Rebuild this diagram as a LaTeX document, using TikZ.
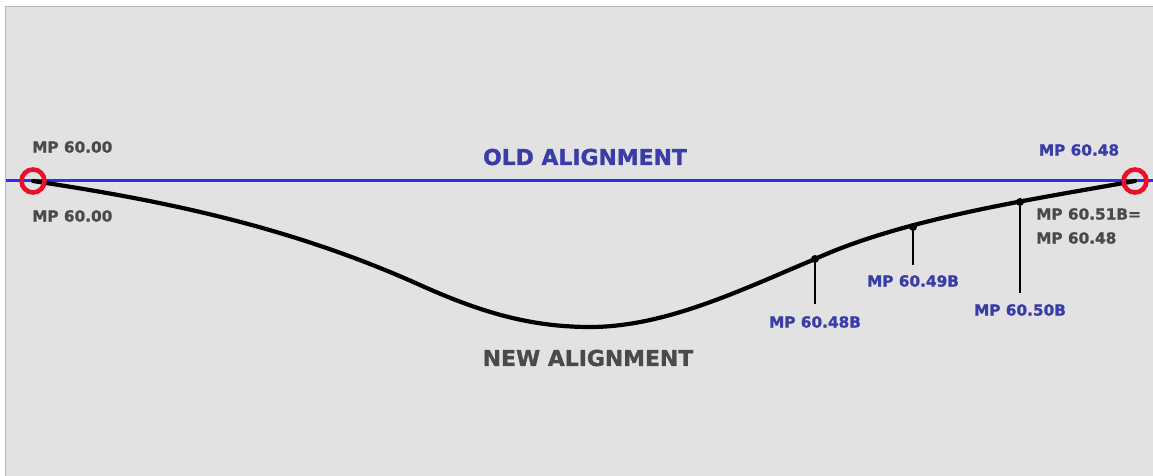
\documentclass[tikz,border=0pt]{standalone}
\usepackage{fontspec}
\setmainfont{DejaVu Sans}[BoldFont={DejaVu Sans Bold}, BoldFeatures={FakeBold=1.2}]
\begin{document}
\begin{tikzpicture}[x=1pt,y=-1pt,
  lbl/.style={font=\bfseries\fontsize{15.3}{18}\selectfont, inner sep=0pt},
  title/.style={font=\bfseries\fontsize{21.9}{25}\selectfont, inner sep=0pt},
  tick/.style={line width=2pt, black},
  endring/.style={draw=redc, line width=4.6pt, circle, minimum size=23pt, inner sep=0pt}]
\definecolor{bg}{HTML}{E2E2E2}
\definecolor{frame}{HTML}{B8B8B8}
\definecolor{bluetxt}{HTML}{3A3DA8}
\definecolor{blueline}{HTML}{2E2EF2}
\definecolor{graytxt}{HTML}{4A4A4A}
\definecolor{redc}{HTML}{E8102A}
\useasboundingbox (0,0) rectangle (1153,476);
\fill[white] (0,0) rectangle (1153,476);
\filldraw[fill=bg, draw=frame, line width=1pt] (5.5,6.5) rectangle (1160,480);
% old alignment
\coordinate (L) at (33,181);
\coordinate (R) at (1135,181);
\coordinate (lineL) at (6,180.5);
\coordinate (lineR) at (1153,180.5);
\draw[blueline, line width=2.8pt] (lineL) -- (lineR);
% new alignment
\coordinate (A) at (420,285);
\coordinate (low) at (590,327);
\coordinate (p1) at (815,259);
\draw[black, line width=4.2pt, line cap=round]
  (L) .. controls (163,200.5) and (290,226.5) .. (A)
      .. controls (480,312) and (530,327) .. (low)
      .. controls (665,327) and (740,290.5) .. (p1)
      .. controls (905,218) and (1035,199) .. (R);
% ticks
\coordinate (q1) at (815,304);
\coordinate (p2) at (913,227); \coordinate (q2) at (913,265);
\coordinate (p3) at (1020,202); \coordinate (q3) at (1020,293);
\draw[tick] (p1) -- (q1);
\draw[tick] (p2) -- (q2);
\draw[tick] (p3) -- (q3);
\fill (p1) circle (4);
\fill (p2) circle (4);
\fill (p3) circle (4);
% circles
\node[endring] (cL) at (L) {};
\node[endring] (cR) at (R) {};
% labels
\node[lbl, text=graytxt, anchor=west] (t1) at (32,147) {MP 60.00};
\node[lbl, text=graytxt, anchor=west] (t2) at (32,216) {MP 60.00};
\node[title, text=bluetxt] (old) at (585,157) {OLD ALIGNMENT};
\node[title, text=graytxt] (new) at (588,358) {NEW ALIGNMENT};
\node[lbl, text=bluetxt] (t3) at (1079,150) {MP 60.48};
\node[lbl, text=graytxt, anchor=west] (t4) at (1036,214) {MP 60.51B=};
\node[lbl, text=graytxt, anchor=west] (t5) at (1036,238) {MP 60.48};
\node[lbl, text=bluetxt] (m1) at (815,322) {MP 60.48B};
\node[lbl, text=bluetxt] (m2) at (913,281) {MP 60.49B};
\node[lbl, text=bluetxt] (m3) at (1020,310) {MP 60.50B};
\end{tikzpicture}
\end{document}
